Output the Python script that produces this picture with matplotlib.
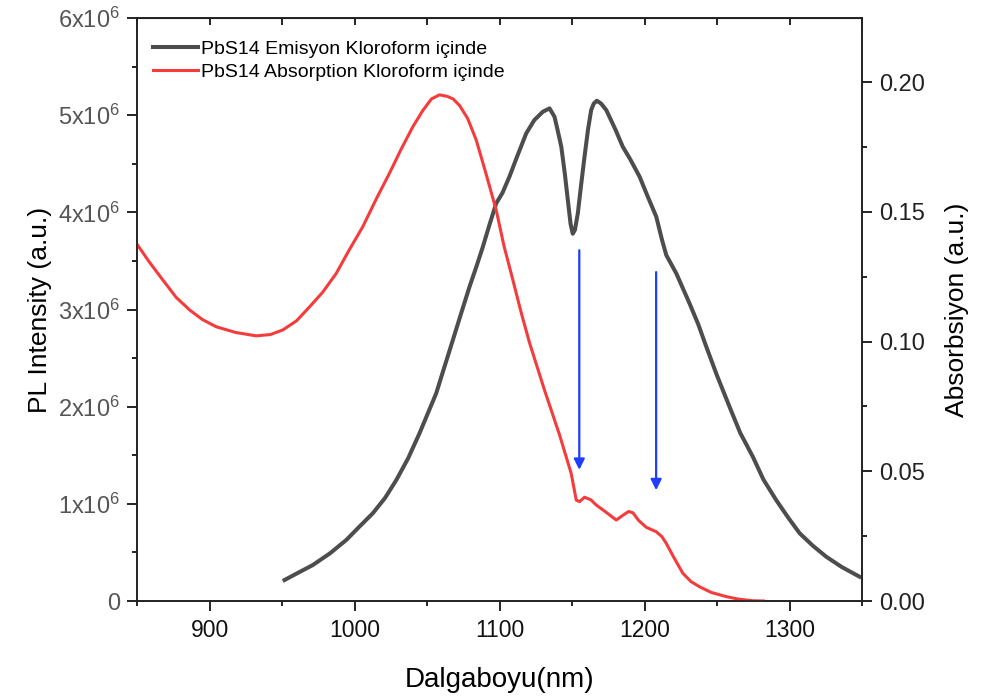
import matplotlib
matplotlib.use('Agg')
import matplotlib.pyplot as plt
from matplotlib.ticker import MultipleLocator, FuncFormatter

plt.rcParams['font.family'] = ['Liberation Sans', 'DejaVu Sans']
plt.rcParams['mathtext.fontset'] = 'custom'
plt.rcParams['mathtext.rm'] = 'Liberation Sans'

# emisyon (PL), dalga boyu nm / yogunluk x1e6
em_nm = [951.7, 961, 971.2, 983, 994.3, 1003, 1012.6, 1021, 1028.8, 1037,
         1044.8, 1050.5, 1056.3, 1062, 1067.8, 1073.5, 1079.3, 1084, 1088.5, 1093,
         1097.7, 1102, 1106.9, 1112, 1118.4, 1124, 1129.9, 1134.5, 1137.9, 1140,
         1142.6, 1145, 1147.1, 1149, 1150.5, 1152, 1154, 1156, 1158.6, 1161,
         1163.2, 1165, 1167.1, 1170, 1173.6, 1180, 1185, 1190, 1196.6, 1202,
         1208.1, 1212, 1215, 1221.9, 1231, 1237, 1242.6, 1250, 1258.6, 1266,
         1274.7, 1282, 1290.8, 1299, 1307, 1316, 1325.3, 1336, 1348.3]
em_val = [0.216, 0.29, 0.370, 0.49, 0.628, 0.76, 0.903, 1.06, 1.245, 1.47,
          1.726, 1.93, 2.137, 2.41, 2.686, 2.96, 3.235, 3.44, 3.646, 3.87,
          4.093, 4.20, 4.37, 4.57, 4.813, 4.95, 5.036, 5.070, 4.984, 4.85,
          4.675, 4.40, 4.127, 3.88, 3.78, 3.82, 3.99, 4.25, 4.572, 4.85,
          5.053, 5.12, 5.149, 5.12, 5.053, 4.85, 4.675, 4.55, 4.367, 4.17,
          3.955, 3.72, 3.56, 3.372, 3.064, 2.85, 2.617, 2.32, 2.000, 1.73,
          1.485, 1.25, 1.039, 0.86, 0.697, 0.57, 0.456, 0.35, 0.250]

# absorpsiyon
ab_nm = [850, 858, 867.8, 877, 886.2, 895, 904.6, 918, 932.2, 942,
         950.6, 960, 969, 978, 987.4, 996, 1005.7, 1015, 1024.1, 1032,
         1040.2, 1047, 1053, 1058.6, 1064, 1068, 1072.4, 1078, 1083.9, 1090,
         1097.7, 1103, 1109.2, 1115, 1120.7, 1131, 1141.4, 1149.4, 1152.9, 1155.2,
         1158.6, 1163, 1166.7, 1174, 1180.5, 1185, 1189, 1192, 1196, 1201.2,
         1208.1, 1212, 1215, 1220, 1226.4, 1232, 1237.9, 1246, 1256.3, 1265,
         1274.7, 1282]
ab_val = [0.1375, 0.131, 0.1237, 0.117, 0.1122, 0.1085, 0.1057, 0.1035, 0.1022, 0.1027,
          0.1045, 0.108, 0.1134, 0.119, 0.1263, 0.135, 0.1443, 0.155, 0.1649, 0.174,
          0.1828, 0.189, 0.1935, 0.1951, 0.1945, 0.1935, 0.1910, 0.186, 0.1777, 0.166,
          0.1507, 0.137, 0.1237, 0.111, 0.0995, 0.0813, 0.0640, 0.0492, 0.0389, 0.0383,
          0.0400, 0.0390, 0.0370, 0.0340, 0.0312, 0.0330, 0.0345, 0.0340, 0.0310, 0.0284,
          0.0267, 0.0248, 0.0222, 0.0170, 0.0107, 0.0075, 0.0055, 0.0033, 0.0017, 0.0007,
          0.0001, 0.0]

# oklar: x, baslangic, bitis (x1e6)
arrow_x = [1155, 1208]
arrow_top = [3.61, 3.385]
arrow_bot = [1.35, 1.14]

fig = plt.figure(figsize=(9.89, 6.99), dpi=100)
ax = fig.add_axes([0.1386, 0.1402, 0.8716 - 0.1386, 0.9742 - 0.1402])
ax2 = ax.twinx()

l1, = ax.plot(em_nm, [v * 1e6 for v in em_val], color='#4d4d4d', lw=2.9,
              label='PbS14 Emisyon Kloroform içinde', zorder=3,
              solid_joinstyle='round')
l2, = ax2.plot(ab_nm, ab_val, color='#f43c3c', lw=2.2,
               label='PbS14 Absorption Kloroform içinde', solid_joinstyle='round')

for x, t, b in zip(arrow_x, arrow_top, arrow_bot):
    ax.annotate('', xy=(x, b * 1e6), xytext=(x, t * 1e6),
                arrowprops=dict(arrowstyle='-|>', color='#1f3cff', lw=1.6,
                                mutation_scale=16, shrinkA=0, shrinkB=0))

ax.set_xlim(850, 1350)
ax.set_ylim(0, 6e6)
ax2.set_ylim(0, 0.2247)

ax.xaxis.set_major_locator(MultipleLocator(100))
ax.xaxis.set_minor_locator(MultipleLocator(50))
ax.yaxis.set_major_locator(MultipleLocator(1e6))
ax.yaxis.set_minor_locator(MultipleLocator(0.5e6))
ax2.yaxis.set_major_locator(MultipleLocator(0.05))
ax2.yaxis.set_minor_locator(MultipleLocator(0.025))


def sci(v, pos):
    if v == 0:
        return '0'
    return r'$\mathregular{%dx10^{6}}$' % round(v / 1e6)


ax.yaxis.set_major_formatter(FuncFormatter(sci))
ax2.yaxis.set_major_formatter(FuncFormatter(lambda v, p: '%.2f' % v))

ax.tick_params(axis='both', which='major', direction='out', length=7, width=1.2)
ax.tick_params(axis='both', which='minor', direction='out', length=3.5, width=1.2)
ax.tick_params(axis='x', labelsize=16.5, pad=6, labelcolor='#111111')
ax.tick_params(axis='y', labelsize=17, labelcolor='#555555', pad=5)
ax2.tick_params(which='major', direction='out', length=7, width=1.2, labelsize=17,
                labelcolor='#222222', pad=5)
ax2.tick_params(which='minor', direction='out', length=3.5, width=1.2)

top = ax.secondary_xaxis('top')
top.set_xticks(range(850, 1351, 50))
top.tick_params(direction='in', length=5, width=1.2, labeltop=False)

for a in (ax, ax2):
    for s in a.spines.values():
        s.set_linewidth(1.2)
        s.set_color('#222222')

ax.set_xlabel('Dalgaboyu(nm)', fontsize=20, labelpad=18)
ax.set_ylabel('PL Intensity (a.u.)', fontsize=19, labelpad=5)
ax2.set_ylabel('Absorbsiyon (a.u.)', fontsize=19, labelpad=15)

ax.legend(handles=[l1, l2], loc='upper left', frameon=False, fontsize=14,
          handlelength=2.3, handletextpad=0.15, labelspacing=0.3,
          borderpad=0, borderaxespad=0, bbox_to_anchor=(0.022, 0.962))

fig.savefig('out.png', dpi=100)
